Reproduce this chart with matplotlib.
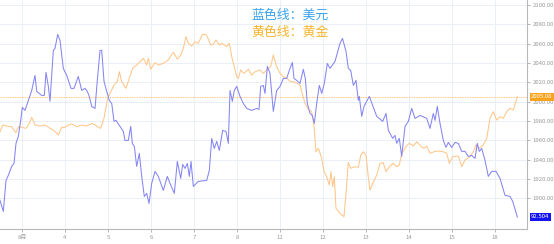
import matplotlib
matplotlib.use("Agg")
import matplotlib.pyplot as plt

plt.rcParams['font.family'] = ['Noto Sans CJK SC', 'DejaVu Sans']

# x axis: day labels sit at 0..11
day_labels = ["8月", "4", "5", "6", "7", "8", "11", "12", "13", "14", "15", "18"]

# USD index (blue line, hidden scale)
usd_t = [-0.512, -0.477, -0.435, -0.372, -0.319, -0.240, -0.186, -0.140, -0.086, -0.030,
         0.007, 0.070, 0.147, 0.226, 0.302, 0.342, 0.458, 0.519, 0.558, 0.612,
         0.651, 0.728, 0.767, 0.830, 0.884, 0.960, 1.040, 1.140, 1.209, 1.309,
         1.388, 1.465, 1.519, 1.565, 1.621, 1.658, 1.698, 1.751, 1.814, 1.853,
         1.907, 1.970, 2.030, 2.086, 2.140, 2.186, 2.279, 2.356, 2.395, 2.472,
         2.528, 2.565, 2.612, 2.667, 2.728, 2.784, 2.844, 2.900, 2.953, 3.016,
         3.093, 3.170, 3.286, 3.379, 3.442, 3.542, 3.612, 3.691, 3.737, 3.791,
         3.844, 3.891, 3.930, 3.984, 4.100, 4.295, 4.356, 4.412, 4.472, 4.528,
         4.588, 4.667, 4.744, 4.798, 4.837, 4.891, 4.937, 4.993, 5.070, 5.147,
         5.226, 5.342, 5.458, 5.512, 5.551, 5.612, 5.651, 5.705, 5.767, 5.844,
         5.923, 6.000, 6.077, 6.156, 6.216, 6.286, 6.326, 6.388, 6.465, 6.542,
         6.588, 6.635, 6.698, 6.751, 6.798, 6.853, 6.914, 6.970, 7.030, 7.100,
         7.163, 7.279, 7.395, 7.453, 7.535, 7.588, 7.644, 7.705, 7.767, 7.821,
         7.844, 7.900, 7.953, 8.077, 8.249, 8.388, 8.465, 8.519, 8.621, 8.674,
         8.714, 8.774, 8.830, 8.907, 8.984, 9.063, 9.140, 9.256, 9.412, 9.488,
         9.565, 9.605, 9.658, 9.721, 9.798, 9.860, 9.914, 9.993, 10.070, 10.147,
         10.226, 10.302, 10.379, 10.458, 10.535, 10.588, 10.635, 10.691, 10.767, 10.844,
         10.923, 11.023, 11.116, 11.233, 11.349, 11.412, 11.519]
usd_v = [92.67, 92.62, 92.56, 92.87, 92.92, 93.01, 93.04, 93.24, 93.31, 93.47,
         93.60, 93.57, 93.67, 93.77, 93.92, 93.76, 93.72, 93.72, 93.95, 93.81,
         93.66, 94.17, 94.19, 94.33, 94.27, 93.99, 93.92, 93.79, 93.79, 93.91,
         93.77, 93.79, 93.76, 93.71, 93.61, 93.60, 93.59, 93.87, 94.17, 94.17,
         93.86, 93.76, 93.67, 93.64, 93.46, 93.47, 93.41, 93.36, 93.27, 93.27,
         93.41, 93.24, 93.21, 93.01, 93.14, 92.91, 92.71, 92.74, 92.64, 92.84,
         92.96, 92.91, 92.77, 92.91, 92.84, 92.74, 93.06, 92.89, 93.03, 92.99,
         93.04, 92.91, 93.06, 92.81, 92.86, 92.87, 92.97, 93.29, 93.19, 93.26,
         93.17, 93.37, 93.36, 93.24, 93.77, 93.66, 93.77, 93.81, 93.71, 93.64,
         93.59, 93.57, 93.59, 93.58, 93.81, 93.82, 93.74, 94.01, 93.94, 93.56,
         93.77, 93.81, 93.89, 93.89, 93.97, 94.05, 93.89, 93.87, 93.84, 93.98,
         93.89, 93.64, 93.54, 93.52, 93.44, 93.64, 93.82, 93.74, 93.84, 94.04,
         93.99, 94.06, 94.24, 94.29, 94.16, 93.99, 93.97, 93.82, 93.87, 93.67,
         93.71, 93.51, 93.61, 93.71, 93.51, 93.46, 93.54, 93.37, 93.29, 93.32,
         93.24, 93.29, 93.11, 93.41, 93.46, 93.59, 93.49, 93.52, 93.49, 93.39,
         93.54, 93.47, 93.61, 93.44, 93.27, 93.20, 93.25, 93.20, 93.25, 93.24,
         93.16, 93.16, 93.11, 93.12, 93.09, 93.24, 93.16, 93.19, 93.07, 92.91,
         92.96, 92.96, 92.89, 92.72, 92.71, 92.66, 92.504]

# Gold price (orange line, right axis)
gold_t = [-0.512, -0.449, -0.356, -0.240, -0.140, -0.086, -0.007, 0.093, 0.170, 0.226,
          0.302, 0.419, 0.535, 0.651, 0.728, 0.844, 0.923, 1.000, 1.077, 1.156,
          1.272, 1.388, 1.505, 1.621, 1.698, 1.830, 1.907, 1.984, 2.063, 2.140,
          2.216, 2.263, 2.319, 2.419, 2.495, 2.574, 2.667, 2.744, 2.821, 2.900,
          2.937, 2.993, 3.093, 3.170, 3.286, 3.402, 3.519, 3.612, 3.691, 3.751,
          3.814, 3.867, 3.947, 4.023, 4.100, 4.202, 4.295, 4.388, 4.449, 4.512,
          4.588, 4.644, 4.760, 4.821, 4.877, 4.937, 4.993, 5.030, 5.086, 5.163,
          5.263, 5.342, 5.419, 5.535, 5.612, 5.691, 5.784, 5.844, 5.923, 6.000,
          6.077, 6.156, 6.249, 6.326, 6.388, 6.465, 6.505, 6.581, 6.658, 6.737,
          6.791, 6.837, 6.891, 6.970, 7.023, 7.086, 7.147, 7.186, 7.226, 7.263,
          7.302, 7.395, 7.488, 7.535, 7.588, 7.644, 7.744, 7.821, 7.877, 7.937,
          8.000, 8.053, 8.093, 8.156, 8.249, 8.326, 8.402, 8.465, 8.542, 8.635,
          8.714, 8.774, 8.830, 8.930, 9.007, 9.100, 9.179, 9.272, 9.349, 9.412,
          9.488, 9.581, 9.681, 9.798, 9.877, 9.937, 10.016, 10.147, 10.226, 10.302,
          10.419, 10.495, 10.558, 10.635, 10.728, 10.807, 10.884, 10.960, 11.040, 11.116,
          11.193, 11.272, 11.349, 11.426, 11.519]
gold_v = [1968.9, 1975.9, 1974.8, 1974.1, 1967.9, 1974.1, 1973.5, 1972.4, 1977.6, 1983.8,
          1975.9, 1974.8, 1975.9, 1972.4, 1970.7, 1965.5, 1973.5, 1973.5, 1975.9, 1976.9,
          1974.1, 1975.9, 1974.8, 1977.6, 1975.9, 1972.4, 1982.8, 2001.7, 2010.3, 2017.2,
          2020.6, 2031.0, 2020.6, 2013.8, 2024.2, 2034.5, 2037.9, 2041.3, 2044.9, 2037.9,
          2044.9, 2033.5, 2040.3, 2037.9, 2039.7, 2043.1, 2051.1, 2044.1, 2048.3, 2055.2,
          2067.2, 2060.4, 2057.6, 2062.0, 2060.4, 2070.0, 2069.0, 2058.6, 2059.6, 2063.8,
          2058.6, 2060.4, 2056.9, 2060.4, 2046.5, 2036.2, 2025.8, 2024.2, 2032.8, 2029.3,
          2033.5, 2027.6, 2031.0, 2032.8, 2029.3, 2032.8, 2036.2, 2048.3, 2036.2, 2029.3,
          2025.8, 2024.2, 2020.6, 2020.6, 2019.0, 2017.2, 2010.3, 1998.3, 1992.1, 1989.6,
          1974.1, 1948.2, 1951.8, 1941.4, 1927.5, 1922.4, 1913.8, 1927.5, 1912.0, 1922.4,
          1889.7, 1884.5, 1881.0, 1905.2, 1936.9, 1931.1, 1932.7, 1932.1, 1944.8, 1948.2,
          1944.8, 1922.4, 1908.6, 1915.5, 1924.1, 1936.2, 1936.9, 1927.5, 1932.7, 1936.2,
          1932.7, 1934.5, 1946.6, 1953.4, 1957.0, 1954.1, 1958.6, 1954.1, 1951.7, 1954.1,
          1946.6, 1948.2, 1949.0, 1948.2, 1946.6, 1936.2, 1943.1, 1943.8, 1932.7, 1939.6,
          1943.1, 1948.2, 1955.2, 1951.8, 1955.2, 1962.1, 1982.8, 1989.6, 1981.0, 1984.4,
          1982.8, 1989.6, 1993.2, 1991.4, 2005.08]

gold_ticks = [1900, 1920, 1940, 1960, 1980, 2000, 2020, 2040, 2060, 2080, 2100]

fig = plt.figure(figsize=(5.54, 2.44), dpi=100)
ax = fig.add_axes([0.0, 15 / 244, 527 / 554, 229 / 244])

# usd line on hidden twin axis (made first, twinx moves ticks of ax to the left)
ax2 = ax.twinx()

grid_c = "#e9eff5"
ax.set_xlim(-0.512, 11.744)
ax.set_ylim(1868.3, 2105.17)
ax.set_xticks(range(len(day_labels)))
ax.set_xticklabels(day_labels)
ax.set_yticks(gold_ticks)
ax.set_yticklabels([f"{v:.2f}" for v in gold_ticks])
ax.yaxis.tick_right()
ax.yaxis.set_label_position("right")
ax.grid(True, color=grid_c, linewidth=0.7)
ax.tick_params(axis="both", labelsize=4.3, colors="#9a9a9a", length=2, width=0.5, pad=2)
for s in ["top", "left"]:
    ax.spines[s].set_visible(False)
for s in ["right", "bottom"]:
    ax.spines[s].set_visible(True)
    ax.spines[s].set_color("#b8b8b8")
    ax.spines[s].set_linewidth(0.8)

# gold line and last-price marker line
ax.plot(gold_t, gold_v, color="#ffc68a", linewidth=0.75, zorder=3)
ax.axhline(gold_v[-1], color="#ffc68a", linewidth=0.7, linestyle=(0, (1.5, 1)), zorder=2)

ax2.set_ylim(92.384, 94.674)
ax2.set_yticks([])
for s in ax2.spines.values():
    s.set_visible(False)
ax2.plot(usd_t, usd_v, color="#8585f3", linewidth=0.75, zorder=3)

# value boxes on the right axis
ax.annotate(f"{gold_v[-1]:.2f}", xy=(1.0, gold_v[-1]), xycoords=("axes fraction", "data"),
            xytext=(3, 0), textcoords="offset points", va="center", ha="left",
            fontsize=4.3, color="white",
            bbox=dict(boxstyle="square,pad=0.25", fc="#f9a21b", ec="none"))
ax2.annotate(f"{usd_v[-1]:.3f}", xy=(1.0, usd_v[-1]), xycoords=("axes fraction", "data"),
             xytext=(3, 0), textcoords="offset points", va="center", ha="left",
             fontsize=4.3, color="white",
             bbox=dict(boxstyle="square,pad=0.25", fc="#1414f0", ec="none"))

# legend text
fig.text(290 / 554, 1 - 15 / 244, "蓝色线：美元", color="#3aa3ee", fontsize=9.3,
         ha="center", va="center")
fig.text(290 / 554, 1 - 32 / 244, "黄色线：黄金", color="#f7b52c", fontsize=9.3,
         ha="center", va="center")

fig.savefig("out.png", dpi=100)
